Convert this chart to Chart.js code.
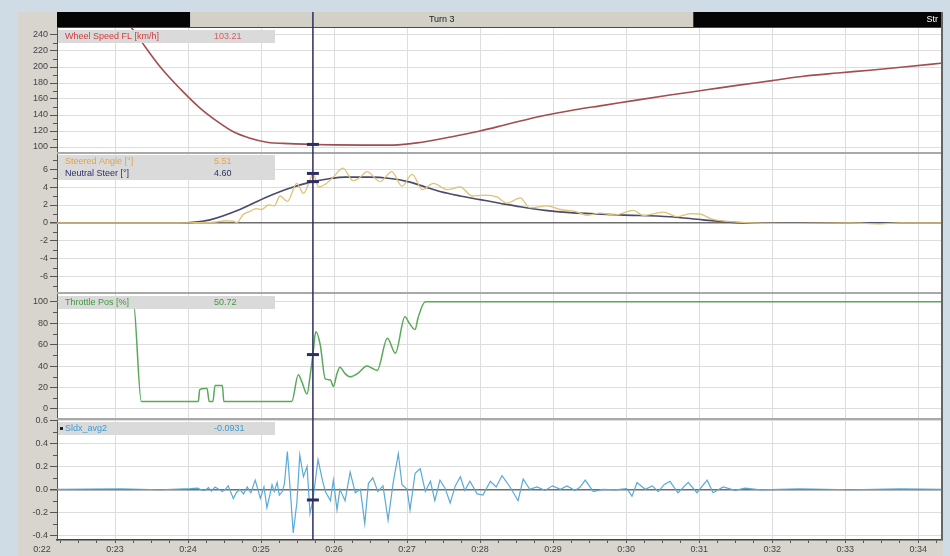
<!DOCTYPE html>
<html>
<head>
<meta charset="utf-8">
<script src="https://cdn.jsdelivr.net/npm/chart.js@4.4.1/dist/chart.umd.min.js"></script>
<style>
  html, body { margin: 0; padding: 0; width: 950px; height: 556px; overflow: hidden; background: #cfdce5; }
  #frame { position: absolute; left: 18px; top: 12px; width: 925px; height: 544px; background: #d8d5ce; }
  canvas { position: absolute; left: 18px; }
</style>
</head>
<body>
<div id="frame"></div>
<canvas id="cSpeed" width="925" height="140" style="top:12px"></canvas>
<canvas id="cSteer" width="925" height="140" style="top:152px"></canvas>
<canvas id="cThrottle" width="925" height="126" style="top:292px"></canvas>
<canvas id="cSldx" width="925" height="142" style="top:414px"></canvas>
<script>
// ---- time axis (seconds) ----
const timeTicks  = [22, 23, 24, 25, 26, 27, 28, 29, 30, 31, 32, 33, 34];
const timeLabels = ['0:22', '0:23', '0:24', '0:25', '0:26', '0:27', '0:28', '0:29', '0:30', '0:31', '0:32', '0:33', '0:34'];
const cursorTime = 25.71;

// ---- track segments shown in the header strip ----
const segmentNames  = ['', 'Turn 3', 'Str'];
const segmentStarts = [22.2, 24.03, 30.92];
const segmentEnds   = [24.03, 30.92, 34.34];

// ---- Wheel Speed FL [km/h] ----
const speedTime  = [22.2, 22.8, 23.2, 23.32, 23.62, 23.9, 24.16, 24.4, 24.62, 24.85, 25.08, 25.4, 25.71, 26.0, 26.4, 26.81, 27.2, 27.6, 28.0, 28.4, 28.86, 29.3, 29.69, 30.1, 30.6, 31.1, 31.52, 32.0, 32.43, 32.9, 33.34, 33.8, 34.34];
const wheelSpeed = [330, 292, 252, 237, 200, 172, 149, 132, 119, 111, 106, 104.2, 103.21, 102.6, 102.3, 102.4, 106, 112.5, 120, 129, 139, 146.5, 152, 158, 165, 171.5, 177, 183, 188.5, 192.5, 196, 200, 205];
const speedTicks  = [100, 120, 140, 160, 180, 200, 220, 240];
const speedLabels = ['100', '120', '140', '160', '180', '200', '220', '240'];

// ---- Steered Angle / Neutral Steer [°] ----
const steerTime    = [22.2, 23.48, 23.89, 24.16, 24.37, 24.51, 24.62, 24.67, 24.75, 24.85, 24.93, 25.01, 25.10, 25.18, 25.26, 25.36, 25.49, 25.58, 25.67, 25.71, 25.79, 25.88, 26.00, 26.12, 26.26, 26.36, 26.45, 26.63, 26.79, 26.93, 27.07, 27.21, 27.36, 27.55, 27.73, 27.89, 28.07, 28.23, 28.37, 28.55, 28.68, 28.92, 29.10, 29.30, 29.47, 29.64, 29.85, 30.10, 30.23, 30.51, 30.70, 30.88, 31.01, 31.19, 31.52, 31.74, 32.38, 33.07, 33.48, 33.75, 34.34];
const steeredAngle = [0, 0, 0, 0.05, 0.1, 0.25, 0.2, 0.05, 0.9, 1.3, 1.6, 1.5, 2.0, 1.9, 3.0, 2.4, 4.4, 3.3, 4.8, 5.51, 4.0, 4.3, 5.2, 6.1, 4.7, 5.1, 5.7, 4.6, 5.7, 4.1, 5.4, 3.7, 4.4, 3.7, 4.0, 3.0, 3.1, 2.9, 2.2, 2.8, 1.7, 1.9, 1.5, 1.3, 0.85, 1.1, 0.9, 1.4, 0.85, 1.2, 0.7, 1.05, 1.0, 0.4, 0.1, 0, -0.05, 0, -0.1, 0, 0];
const neutralTime  = [22.2, 23.89, 24.10, 24.30, 24.71, 25.08, 25.40, 25.71, 25.95, 26.15, 26.49, 26.77, 27.01, 27.25, 27.45, 27.73, 28.00, 28.27, 28.55, 28.89, 29.23, 29.92, 30.60, 31.05, 31.42, 31.74, 34.34];
const neutralSteer = [0, 0, 0.1, 0.35, 1.5, 2.9, 3.9, 4.60, 4.95, 5.1, 5.1, 4.95, 4.6, 4.0, 3.5, 3.0, 2.6, 2.2, 1.8, 1.4, 1.15, 0.9, 0.7, 0.35, 0.1, 0, 0];
const steerTicks  = [-6, -4, -2, 0, 2, 4, 6];
const steerLabels = ['-6', '-4', '-2', '0', '2', '4', '6'];

// ---- Throttle Pos [%] ----
const throttleTime = [22.2, 23.25, 23.36, 24.14, 24.16, 24.23, 24.26, 24.29, 24.34, 24.37, 24.47, 24.49, 25.42, 25.51, 25.56, 25.63, 25.67, 25.71, 25.75, 25.81, 25.88, 25.95, 25.99, 26.04, 26.08, 26.15, 26.22, 26.32, 26.45, 26.52, 26.59, 26.73, 26.84, 26.97, 27.03, 27.11, 27.15, 27.25, 34.34];
const throttlePos  = [100, 100, 7, 7, 18, 19, 19, 7, 7, 22, 22, 7, 7, 32, 25, 14, 30, 50.72, 72, 60, 28, 27, 21, 33, 39, 33, 30, 33, 40, 38, 36, 66, 52, 86, 80, 74, 85, 100, 100];
const throttleTicks  = [0, 20, 40, 60, 80, 100];
const throttleLabels = ['0', '20', '40', '60', '80', '100'];

// ---- Sldx_avg2 ----
const sldxTime = [22.20, 23.07, 23.62, 24.03, 24.13, 24.18, 24.23, 24.28, 24.32, 24.37,
  24.42, 24.47, 24.51, 24.55, 24.62, 24.66, 24.71, 24.76, 24.81, 24.86,
  24.92, 24.99, 25.04, 25.08, 25.12, 25.15, 25.18, 25.22, 25.25, 25.29,
  25.32, 25.36, 25.40, 25.44, 25.49, 25.53, 25.58, 25.63, 25.67, 25.71,
  25.78, 25.84, 25.88, 25.95, 25.99, 26.04, 26.08, 26.15, 26.22, 26.29,
  26.36, 26.42, 26.47, 26.53, 26.60, 26.67, 26.74, 26.81, 26.88, 26.93,
  27.00, 27.04, 27.11, 27.18, 27.25, 27.32, 27.38, 27.45, 27.52, 27.59,
  27.66, 27.73, 27.79, 27.86, 27.96, 28.04, 28.14, 28.22, 28.30, 28.41,
  28.52, 28.59, 28.68, 28.78, 28.89, 28.99, 29.10, 29.19, 29.30, 29.37,
  29.44, 29.55, 29.68, 29.85, 30.01, 30.08, 30.15, 30.26, 30.36, 30.44,
  30.52, 30.60, 30.71, 30.85, 30.97, 31.11, 31.19, 31.33, 31.49, 31.63,
  31.84, 32.38, 33.07, 33.75, 34.34];
const sldxAvg = [0, 0.005, -0.004, 0.006, 0.01, -0.005, -0.01, 0.015, -0.015, 0.02,
  0.0, -0.02, 0.0, 0.03, -0.08, -0.03, 0.0, -0.04, 0.02, -0.03,
  0.08, -0.08, 0.02, -0.16, -0.05, 0.04, -0.02, 0.06, -0.05, -0.02,
  0.05, 0.33, -0.01, -0.38, -0.12, 0.30, 0.11, 0.20, -0.21, -0.0931,
  0.26, 0.08, -0.02, -0.10, 0.08, -0.18, 0.0, -0.10, 0.15, -0.03,
  0.0, -0.30, 0.05, 0.10, -0.02, 0.03, -0.27, 0.06, 0.31, 0.04,
  0.0, -0.18, 0.14, 0.18, -0.02, 0.07, -0.10, 0.08, 0.01, -0.12,
  0.03, 0.11, -0.01, 0.07, -0.04, -0.05, 0.07, 0.02, 0.12, 0.02,
  -0.10, 0.09, 0.0, 0.02, -0.01, 0.03, 0.0, 0.03, -0.01, 0.02,
  0.08, -0.02, 0.0, -0.005, 0.005, -0.06, 0.06, 0.0, 0.03, -0.02,
  0.04, 0.07, -0.03, 0.06, -0.03, 0.08, -0.03, 0.02, -0.01, 0.01,
  -0.005, 0.005, -0.004, 0.004, 0];
const sldxTicks  = [-0.4, -0.2, 0, 0.2, 0.4, 0.6];
const sldxLabels = ['-0.4', '-0.2', '0.0', '0.2', '0.4', '0.6'];

// ---- cursor readouts ----
const cursorSpeed = 103.21, cursorSteered = 5.51, cursorNeutral = 4.60, cursorThrottle = 50.72, cursorSldx = -0.0931;

const T_MIN = 22.205, T_MAX = 34.34;
const FONT = '"Liberation Sans", Arial, sans-serif';
const GRID = '#dddddd';
const CURSOR = '#2c2e62';

const pts = (ts, vs) => ts.map((t, i) => ({ x: t, y: vs[i] }));

function panelPlugin(cfg) {
  return {
    id: 'panel_' + cfg.key,
    beforeDraw(chart) {
      const { ctx, chartArea: a } = chart;
      ctx.save();
      ctx.fillStyle = '#ffffff';
      ctx.fillRect(a.left, a.top, a.right - a.left, a.bottom - a.top);
      if (cfg.separator) {
        ctx.fillStyle = '#a9a9a9';
        ctx.fillRect(a.left, a.top - 2, a.right - a.left, 2);
      }
      ctx.restore();
    },
    afterDraw(chart) {
      const { ctx, chartArea: a } = chart;
      const xs = chart.scales.x, ys = chart.scales.y;
      ctx.save();

      // header strip with track segments
      if (cfg.header) {
        const cursorSeg = segmentStarts.findIndex((s, i) => cursorTime >= s && cursorTime < segmentEnds[i]);
        segmentStarts.forEach((s, i) => {
          const x0 = Math.max(a.left, xs.getPixelForValue(s));
          const x1 = Math.min(a.right, xs.getPixelForValue(segmentEnds[i]));
          const active = i === cursorSeg;
          ctx.fillStyle = active ? '#d3d0c8' : '#050505';
          ctx.fillRect(x0, 0, x1 - x0, 15);
          if (segmentNames[i]) {
            ctx.font = '9px ' + FONT;
            ctx.textBaseline = 'middle';
            if (active) {
              ctx.fillStyle = '#222';
              ctx.textAlign = 'center';
              ctx.fillText(segmentNames[i], (x0 + x1) / 2, 8);
            } else {
              ctx.fillStyle = '#ffffff';
              ctx.textAlign = 'right';
              ctx.fillText(segmentNames[i], x1 - 5, 8);
            }
          }
        });
        ctx.fillStyle = '#4a4a4a';
        ctx.fillRect(a.left, 15, a.right - a.left, 1);
      }

      // minor ticks on the value axis
      const step = cfg.ticks[1] - cfg.ticks[0];
      ctx.strokeStyle = '#555';
      ctx.lineWidth = 1;
      for (let v = cfg.ticks[0] - step / 2; v <= ys.max; v += step) {
        if (v < ys.min) continue;
        const y = Math.round(ys.getPixelForValue(v)) + 0.5;
        ctx.beginPath();
        ctx.moveTo(a.left - 4, y);
        ctx.lineTo(a.left, y);
        ctx.stroke();
      }

      // cursor line
      const cx = xs.getPixelForValue(cursorTime);
      ctx.fillStyle = CURSOR;
      ctx.fillRect(cx - 0.75, cfg.header ? 0 : a.top - 2, 1.5, a.bottom - (cfg.header ? 0 : a.top - 2));

      // cursor markers at the readout values
      cfg.markers.forEach(v => {
        const y = ys.getPixelForValue(v);
        ctx.fillStyle = CURSOR;
        ctx.fillRect(cx - 6, y - 1.5, 12, 3);
      });

      // channel readout box
      const rows = cfg.rows;
      const bx = a.left + 1, by = a.top + cfg.boxTop;
      ctx.fillStyle = '#dadada';
      ctx.fillRect(bx, by, 217, rows.length * 12 + 1);
      ctx.font = '9px ' + FONT;
      ctx.textBaseline = 'middle';
      ctx.textAlign = 'left';
      rows.forEach((r, i) => {
        const ty = by + 6.5 + i * 12;
        if (r.bullet) {
          ctx.fillStyle = '#222';
          ctx.fillRect(bx + 2, ty - 1.5, 3, 3);
        }
        ctx.fillStyle = r.color;
        ctx.fillText(r.name, bx + 7, ty);
        ctx.fillStyle = r.valueColor || r.color;
        ctx.fillText(r.value, bx + 156, ty);
      });

      // right frame edge
      ctx.fillStyle = '#646464';
      const edgeTop = cfg.header ? 0 : a.top - 2;
      ctx.fillRect(a.right - 2, edgeTop, 2, a.bottom - edgeTop);

      // leading time label, left of the plotted span
      if (cfg.timeAxis) {
        ctx.fillStyle = '#444';
        ctx.font = '9px ' + FONT;
        ctx.textAlign = 'center';
        ctx.textBaseline = 'top';
        ctx.fillText(timeLabels[0], xs.getPixelForValue(timeTicks[0]), a.bottom + 5);
      }
      ctx.restore();
    }
  };
}

function makePanel(id, cfg) {
  const quarterTicks = [];
  for (let k = Math.ceil(T_MIN * 4); k <= Math.floor(T_MAX * 4); k++) quarterTicks.push(k / 4);
  const xTicks = cfg.timeAxis ? quarterTicks : timeTicks.filter(t => t >= T_MIN && t <= T_MAX);

  return new Chart(document.getElementById(id), {
    type: 'line',
    data: {
      datasets: cfg.series.map(s => ({
        data: pts(s.t, s.v),
        borderColor: s.color,
        borderWidth: s.width,
        pointRadius: 0,
        fill: false,
        clip: 0,
        tension: s.smooth ? 0.4 : 0,
        cubicInterpolationMode: s.smooth ? 'monotone' : 'default'
      }))
    },
    options: {
      responsive: false,
      animation: false,
      devicePixelRatio: 1,
      events: [],
      layout: { padding: { top: cfg.padTop, left: 0, right: 0, bottom: 0 } },
      plugins: { legend: { display: false }, tooltip: { enabled: false } },
      scales: {
        x: {
          type: 'linear',
          min: T_MIN,
          max: T_MAX,
          afterBuildTicks: s => { s.ticks = xTicks.map(v => ({ value: v })); },
          afterFit: s => { s.height = cfg.timeAxis ? 16 : 0; s.paddingLeft = 0; s.paddingRight = 0; },
          ticks: {
            display: !!cfg.timeAxis,
            autoSkip: false,
            maxRotation: 0,
            padding: 1,
            color: '#444',
            font: { size: 9, family: FONT },
            callback: v => { const i = timeTicks.indexOf(v); return i >= 0 ? timeLabels[i] : ''; }
          },
          grid: {
            color: ctx => (ctx.tick && Number.isInteger(ctx.tick.value)) ? GRID : 'rgba(0,0,0,0)',
            drawTicks: !!cfg.timeAxis,
            tickLength: 3,
            tickColor: '#555'
          },
          border: { display: !!cfg.timeAxis, color: '#444', width: 1.5 }
        },
        y: {
          position: 'left',
          min: cfg.min,
          max: cfg.max,
          afterBuildTicks: s => { s.ticks = cfg.ticks.map(v => ({ value: v })); },
          afterFit: s => { s.width = 39; s.paddingTop = 0; s.paddingBottom = 0; },
          ticks: {
            autoSkip: false,
            padding: 2,
            color: '#444',
            font: { size: 9, family: FONT },
            callback: (v, i) => cfg.labels[i]
          },
          grid: {
            color: ctx => (cfg.darkZero && ctx.tick && ctx.tick.value === 0) ? '#6e6e6e' : GRID,
            lineWidth: ctx => (cfg.darkZero && ctx.tick && ctx.tick.value === 0) ? 1.5 : 1,
            drawTicks: true,
            tickLength: 7,
            tickColor: '#555'
          },
          border: { display: true, color: '#555', width: 1 }
        }
      }
    },
    plugins: [panelPlugin(cfg)]
  });
}

makePanel('cSpeed', {
  key: 'speed', padTop: 16, header: true, separator: false,
  min: 93.75, max: 248.75, ticks: speedTicks, labels: speedLabels,
  series: [{ t: speedTime, v: wheelSpeed, color: '#a24e4e', width: 1.6, smooth: true }],
  markers: [cursorSpeed], boxTop: 2,
  rows: [{ name: 'Wheel Speed FL [km/h]', value: cursorSpeed.toFixed(2), color: '#d23c3c', valueColor: '#d46060' }]
});

makePanel('cSteer', {
  key: 'steer', padTop: 2, separator: true, darkZero: true,
  min: -7.67, max: 7.67, ticks: steerTicks, labels: steerLabels,
  series: [
    { t: steerTime, v: steeredAngle, color: '#dfc276', width: 1.3, smooth: true },
    { t: neutralTime, v: neutralSteer, color: '#4a4a6c', width: 1.6, smooth: true }
  ],
  markers: [cursorSteered, cursorNeutral], boxTop: 1,
  rows: [
    { name: 'Steered Angle [°]', value: cursorSteered.toFixed(2), color: '#e2a44a' },
    { name: 'Neutral Steer [°]', value: cursorNeutral.toFixed(2), color: '#2e2e6a' }
  ]
});

makePanel('cThrottle', {
  key: 'throttle', padTop: 2, separator: true,
  min: -8.4, max: 107.2, ticks: throttleTicks, labels: throttleLabels,
  series: [{ t: throttleTime, v: throttlePos, color: '#5aa85a', width: 1.5, smooth: true }],
  markers: [cursorThrottle], boxTop: 2,
  rows: [{ name: 'Throttle Pos [%]', value: cursorThrottle.toFixed(2), color: '#3e9a3e' }]
});

makePanel('cSldx', {
  key: 'sldx', padTop: 6, separator: true, darkZero: true, timeAxis: true,
  min: -0.4428, max: 0.6052, ticks: sldxTicks, labels: sldxLabels,
  series: [{ t: sldxTime, v: sldxAvg, color: '#5aaad8', width: 1.2, smooth: false }],
  markers: [cursorSldx], boxTop: 2,
  rows: [{ name: 'Sldx_avg2', value: cursorSldx.toFixed(4), color: '#3d9bd2', bullet: true }]
});
</script>
</body>
</html>
